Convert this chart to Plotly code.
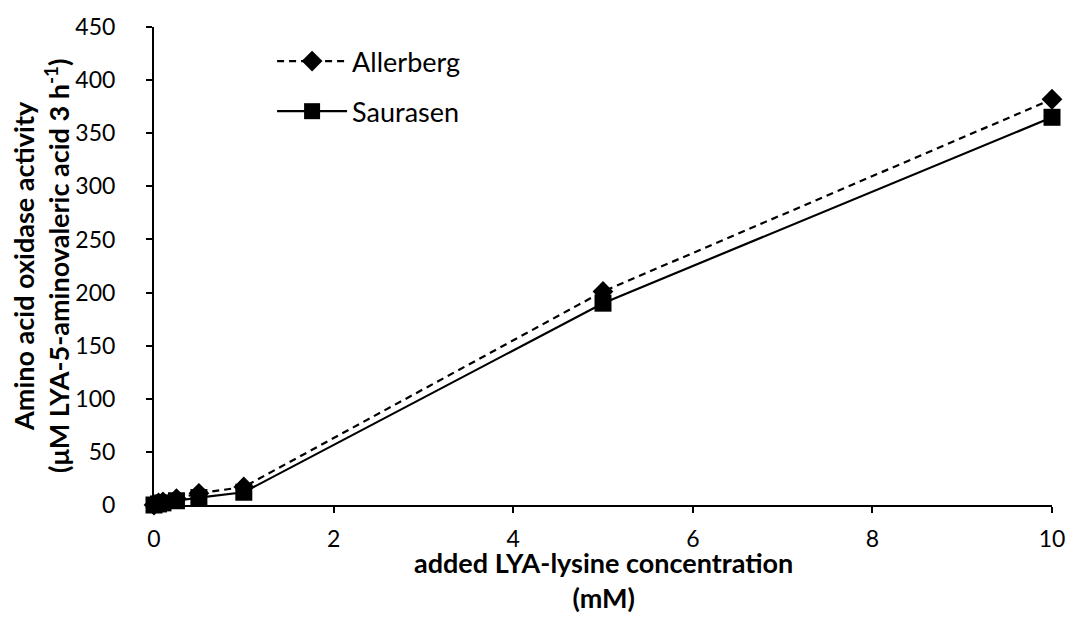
import plotly.graph_objects as go

conc = [0, 0.05, 0.1, 0.25, 0.5, 1, 5, 10]
allerberg = [0, 2, 3, 6, 11, 17, 201, 382]
saurasen = [0, 1, 2, 4, 7, 12, 190, 365]
x_ticks = [0, 2, 4, 6, 8, 10]
y_ticks = [0, 50, 100, 150, 200, 250, 300, 350, 400, 450]

FONT = "Lato"

fig = go.Figure()
fig.add_trace(go.Scatter(
    x=conc, y=allerberg, name="Allerberg", mode="lines+markers",
    legendgroup="a",
    line=dict(color="black", width=2.2, dash="7px,5px"),
    marker=dict(symbol="diamond", size=16, color="black"),
    cliponaxis=False))
fig.add_trace(go.Scatter(
    x=conc, y=saurasen, name="Saurasen", mode="lines+markers",
    legendgroup="b",
    line=dict(color="black", width=2.2),
    marker=dict(symbol="square", size=17, color="black"),
    cliponaxis=False))

fig.update_layout(
    width=1077, height=637,
    margin=dict(l=154, r=18, t=25, b=132),
    plot_bgcolor="white", paper_bgcolor="white",
    font=dict(family=FONT, size=23, color="black"),
    showlegend=True,
    legend=dict(x=0.1315, y=0.979, xanchor="left", yanchor="top",
                font=dict(size=27, family=FONT), bgcolor="rgba(0,0,0,0)",
                tracegroupgap=12, itemwidth=70),
    xaxis=dict(range=[0, 10], tickvals=x_ticks, showgrid=False, zeroline=False,
               showline=True, linecolor="black", linewidth=2,
               ticks="outside", ticklen=6, tickwidth=2, tickcolor="black",
               tickfont=dict(size=23), ticklabelstandoff=6),
    yaxis=dict(range=[0, 450], tickvals=y_ticks, showgrid=False, zeroline=False,
               showline=True, linecolor="black", linewidth=2,
               ticks="outside", ticklen=6, tickwidth=2, tickcolor="black",
               tickfont=dict(size=23), ticklabelstandoff=26),
)

fig.add_annotation(
    text="<b>added LYA-lysine concentration</b><br><b>(mM)</b>",
    xref="paper", yref="paper", x=0.5, y=0, yshift=-39,
    xanchor="center", yanchor="top", showarrow=False,
    font=dict(size=27, family=FONT))
fig.add_annotation(
    text="<b>Amino acid oxidase activity</b><br><b>(μM LYA-5-aminovaleric acid 3 h<sup>-1</sup>)</b>",
    xref="paper", yref="paper", x=0, y=0.5, xshift=-113,
    xanchor="center", yanchor="middle", showarrow=False, textangle=-90,
    font=dict(size=27, family=FONT))

fig.write_html("out.html", config={"displayModeBar": False},
               post_script="document.body.style.margin='0';document.body.style.overflow='hidden';")
